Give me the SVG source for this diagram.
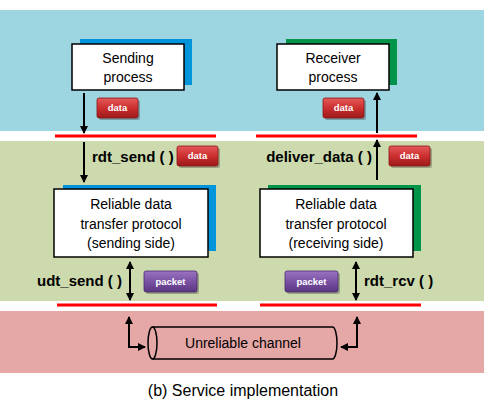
<svg xmlns="http://www.w3.org/2000/svg" width="489" height="409" viewBox="0 0 489 409">
<defs>
<linearGradient id="gRed" x1="0" y1="0" x2="0" y2="1"><stop offset="0" stop-color="#e55a5a"/><stop offset="0.5" stop-color="#cc2f2f"/><stop offset="1" stop-color="#9c1a1a"/></linearGradient>
<linearGradient id="gPur" x1="0" y1="0" x2="0" y2="1"><stop offset="0" stop-color="#9a74c0"/><stop offset="0.5" stop-color="#7a52a4"/><stop offset="1" stop-color="#5a3680"/></linearGradient>
<marker id="ah" markerWidth="8" markerHeight="8" refX="7" refY="4" orient="auto-start-reverse" markerUnits="userSpaceOnUse"><path d="M0,0 L8,4 L0,8 Z" fill="#000"/></marker>
</defs>
<style>
.box{fill:#fff;stroke:#000;stroke-width:1.5}
.t{font-family:"Liberation Sans",Arial,sans-serif;font-size:14px;fill:#000;text-anchor:middle}
.lb{font-family:"Liberation Sans",Arial,sans-serif;font-size:15px;font-weight:bold;fill:#000}
.bt{font-family:"Liberation Sans",Arial,sans-serif;font-size:9.5px;font-weight:bold;fill:#fff;text-anchor:middle}
.red{stroke:#ff0000;stroke-width:3}
.c{stroke:#000;stroke-width:2;fill:none}
.bdR{fill:url(#gRed);stroke:#8a1515;stroke-width:0.8}
.bdP{fill:url(#gPur);stroke:#4a2a70;stroke-width:0.8}
.sh{fill:#000;opacity:0.25}
</style>
<rect x="0" y="10" width="484" height="121" fill="#9dd5e0"/>
<rect x="0" y="141" width="484" height="160" fill="#ccdaad"/>
<rect x="0" y="311" width="484" height="62" fill="#e6a7a7"/>
<g id="interfaces">
<line class="red" x1="55" y1="136" x2="216" y2="136"/>
<line class="red" x1="256" y1="136" x2="417" y2="136"/>
<line class="red" x1="57" y1="305" x2="217" y2="305"/>
<line class="red" x1="260" y1="305" x2="421" y2="305"/>
</g>
<g id="sending-process">
<rect x="80" y="39" width="112" height="46" fill="#0095da"/>
<rect class="box" x="72" y="44" width="112" height="46"/>
<text class="t" x="128" y="63">Sending</text>
<text class="t" x="128" y="82">process</text>
</g>
<g id="receiver-process">
<rect x="286" y="39" width="111" height="46" fill="#00934a"/>
<rect class="box" x="277" y="44" width="112" height="46"/>
<text class="t" x="333" y="63">Receiver</text>
<text class="t" x="333" y="82">process</text>
</g>
<g id="rdt-sender">
<rect x="63" y="185" width="153" height="66" fill="#0095da"/>
<rect class="box" x="54" y="189" width="154" height="68"/>
<text class="t" x="131" y="209">Reliable data</text>
<text class="t" x="131" y="229">transfer protocol</text>
<text class="t" x="131" y="248">(sending side)</text>
</g>
<g id="rdt-receiver">
<rect x="268" y="185" width="153" height="66" fill="#00934a"/>
<rect class="box" x="260" y="189" width="153" height="68"/>
<text class="t" x="336" y="209">Reliable data</text>
<text class="t" x="336" y="229">transfer protocol</text>
<text class="t" x="336" y="248">(receiving side)</text>
</g>
<g id="channel">
<path d="M152.5,327 L332.5,327 A4.5,16 0 0 1 332.5,359 L152.5,359" fill="none" stroke="#000" stroke-width="1.5"/>
<ellipse cx="152.5" cy="343" rx="4.5" ry="16" fill="none" stroke="#000" stroke-width="1.5"/>
<text class="t" x="243" y="348">Unreliable channel</text>
</g>
<g id="connectors">
<line class="c" x1="84" y1="93" x2="84" y2="133" marker-end="url(#ah)"/>
<line class="c" x1="377" y1="133" x2="377" y2="93" marker-end="url(#ah)"/>
<line class="c" x1="84" y1="142" x2="84" y2="182" marker-end="url(#ah)"/>
<line class="c" x1="377" y1="180" x2="377" y2="140" marker-end="url(#ah)"/>
<line class="c" x1="130" y1="262" x2="130" y2="300" marker-start="url(#ah)" marker-end="url(#ah)"/>
<line class="c" x1="356" y1="262" x2="356" y2="300" marker-start="url(#ah)" marker-end="url(#ah)"/>
<path class="c" d="M129,317 L129,347 L145,347" marker-start="url(#ah)" marker-end="url(#ah)"/>
<path class="c" d="M357,317 L357,347 L341,347" marker-start="url(#ah)" marker-end="url(#ah)"/>
</g>
<g id="labels">
<text class="lb" x="92" y="162">rdt_send ( )</text>
<text class="lb" x="372" y="162" text-anchor="end">deliver_data ( )</text>
<text class="lb" x="122" y="286" text-anchor="end">udt_send ( )</text>
<text class="lb" x="364" y="286">rdt_rcv ( )</text>
</g>
<g id="badges">
<rect class="sh" x="99" y="100" width="41" height="20" rx="2"/>
<rect class="bdR" x="97" y="98" width="41" height="20" rx="2"/>
<text class="bt" x="117.5" y="111">data</text>
<rect class="sh" x="325" y="100" width="41" height="20" rx="2"/>
<rect class="bdR" x="323" y="98" width="41" height="20" rx="2"/>
<text class="bt" x="343.5" y="111">data</text>
<rect class="sh" x="179" y="148" width="41" height="20" rx="2"/>
<rect class="bdR" x="177" y="146" width="41" height="20" rx="2"/>
<text class="bt" x="197.5" y="159">data</text>
<rect class="sh" x="391" y="148" width="41" height="20" rx="2"/>
<rect class="bdR" x="389" y="146" width="41" height="20" rx="2"/>
<text class="bt" x="409.5" y="159">data</text>
<rect class="sh" x="146" y="273" width="53" height="21" rx="2"/>
<rect class="bdP" x="144" y="271" width="53" height="21" rx="2"/>
<text class="bt" x="170.5" y="284.5">packet</text>
<rect class="sh" x="287" y="273" width="53" height="21" rx="2"/>
<rect class="bdP" x="285" y="271" width="53" height="21" rx="2"/>
<text class="bt" x="311.5" y="284.5">packet</text>
</g>
<text class="t" x="243" y="396" style="font-size:16px">(b) Service implementation</text>
</svg>
